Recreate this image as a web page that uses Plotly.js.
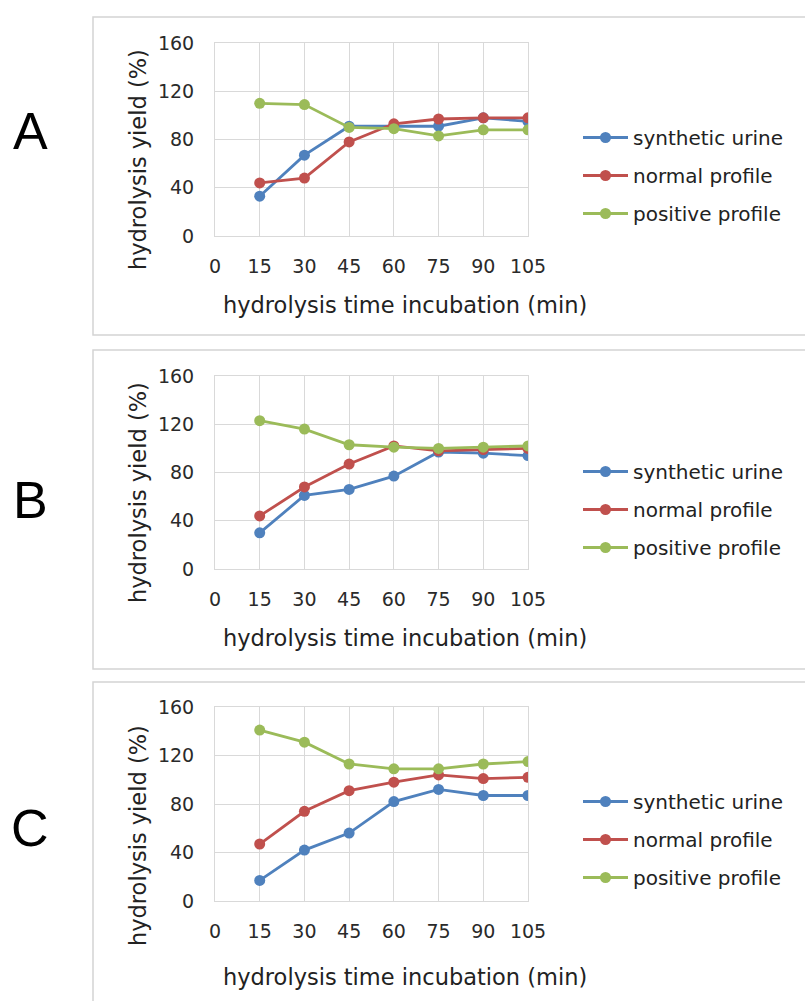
<!DOCTYPE html>
<html>
<head>
<meta charset="utf-8">
<script src="https://cdn.plot.ly/plotly-3.0.1.min.js"></script>
<style>html,body{margin:0;padding:0;background:#fff;}#chart{width:805px;height:1001px;}</style>
</head>
<body>
<div id="chart"></div>
<script>
// Data
const times = [15, 30, 45, 60, 75, 90, 105];
const xTicks = [0, 15, 30, 45, 60, 75, 90, 105];
const yTicks = [0, 40, 80, 120, 160];
const seriesNames = ["synthetic urine", "normal profile", "positive profile"];
const panelLabels = ["A", "B", "C"];

const synthA = [33, 67, 91, 91, 91, 98, 95];
const normalA = [44, 48, 78, 93, 97, 98, 98];
const positiveA = [110, 109, 90, 89, 83, 88, 88];

const synthB = [30, 61, 66, 77, 97, 96, 94];
const normalB = [44, 68, 87, 102, 98, 99, 100];
const positiveB = [123, 116, 103, 101, 100, 101, 102];

const synthC = [17, 42, 56, 82, 92, 87, 87];
const normalC = [47, 74, 91, 98, 104, 101, 102];
const positiveC = [141, 131, 113, 109, 109, 113, 115];

const colors = ["#4F81BD", "#C0504D", "#9BBB59"];
const panels = [
  [synthA, normalA, positiveA],
  [synthB, normalB, positiveB],
  [synthC, normalC, positiveC]
];

// Layout geometry (pixels)
const W = 805, H = 1001;
const plotX = [215, 528];
const plotY = [[43, 236], [376, 569], [707, 901]];
const boxY = [[17, 335], [350, 669], [682, 1006]];
const legendTop = [118, 452, 782];
const letterY = [131, 500, 828];
const yTitleY = [160, 493, 836];
const xTitleY = [305, 638, 977];

const px = v => v / W;
const py = v => 1 - v / H;

const traces = [];
panels.forEach((p, i) => {
  const sfx = i === 0 ? "" : String(i + 1);
  p.forEach((vals, j) => {
    traces.push({
      x: times, y: vals, type: "scatter", mode: "lines+markers",
      name: seriesNames[j],
      xaxis: "x" + sfx, yaxis: "y" + sfx,
      legend: "legend" + sfx,
      legendgroup: "g" + i + "_" + j,
      line: {color: colors[j], width: 2.8},
      marker: {color: colors[j], size: 11}
    });
  });
});

const tickFont = {family: "DejaVu Sans", size: 19, color: "#2a2a2a"};
const layout = {
  width: W, height: H,
  margin: {l: 0, r: 0, t: 0, b: 0},
  paper_bgcolor: "#fff", plot_bgcolor: "#fff",
  showlegend: true,
  shapes: [], annotations: []
};

for (let i = 0; i < 3; i++) {
  const sfx = i === 0 ? "" : String(i + 1);
  layout["xaxis" + sfx] = {
    domain: [px(plotX[0]), px(plotX[1])], anchor: "y" + sfx,
    range: [0, 105], tickvals: xTicks, ticktext: xTicks.map(String),
    showgrid: true, gridcolor: "#d9d9d9", gridwidth: 1,
    showline: true, linecolor: "#d9d9d9", mirror: true,
    zeroline: false, ticks: "", ticklabelstandoff: 13,
    tickfont: tickFont, fixedrange: true
  };
  layout["yaxis" + sfx] = {
    domain: [py(plotY[i][1]), py(plotY[i][0])], anchor: "x" + sfx,
    range: [0, 160], tickvals: yTicks, ticktext: yTicks.map(String),
    showgrid: true, gridcolor: "#d9d9d9", gridwidth: 1,
    showline: true, linecolor: "#d9d9d9", mirror: true,
    zeroline: false, ticks: "", ticklabelstandoff: 16,
    tickfont: tickFont, fixedrange: true
  };
  layout["legend" + sfx] = {
    x: px(578), xanchor: "left", y: py(legendTop[i]), yanchor: "top",
    bgcolor: "rgba(0,0,0,0)", borderwidth: 0,
    font: {family: "DejaVu Sans", size: 20, color: "#222"},
    traceorder: "grouped", tracegroupgap: 9, itemwidth: 45
  };
  layout.shapes.push({
    type: "rect", xref: "paper", yref: "paper",
    x0: px(93), x1: px(812), y0: py(boxY[i][1]), y1: py(boxY[i][0]),
    line: {color: "#d4d4d4", width: 1.5}, fillcolor: "rgba(0,0,0,0)", layer: "below"
  });
  layout.annotations.push({
    text: panelLabels[i], xref: "paper", yref: "paper",
    x: px(30), y: py(letterY[i]), xanchor: "center", yanchor: "middle",
    showarrow: false, font: {family: "Liberation Sans", size: 52, color: "#000"}
  });
  layout.annotations.push({
    text: "hydrolysis yield (%)", xref: "paper", yref: "paper",
    x: px(138), y: py(yTitleY[i]), xanchor: "center", yanchor: "middle",
    textangle: -90, showarrow: false,
    font: {family: "DejaVu Sans", size: 22.5, color: "#222"}
  });
  layout.annotations.push({
    text: "hydrolysis time incubation (min)", xref: "paper", yref: "paper",
    x: px(405), y: py(xTitleY[i]), xanchor: "center", yanchor: "middle",
    showarrow: false,
    font: {family: "DejaVu Sans", size: 22.5, color: "#222"}
  });
}

Plotly.newPlot("chart", traces, layout, {staticPlot: true, displayModeBar: false});
</script>
</body>
</html>
